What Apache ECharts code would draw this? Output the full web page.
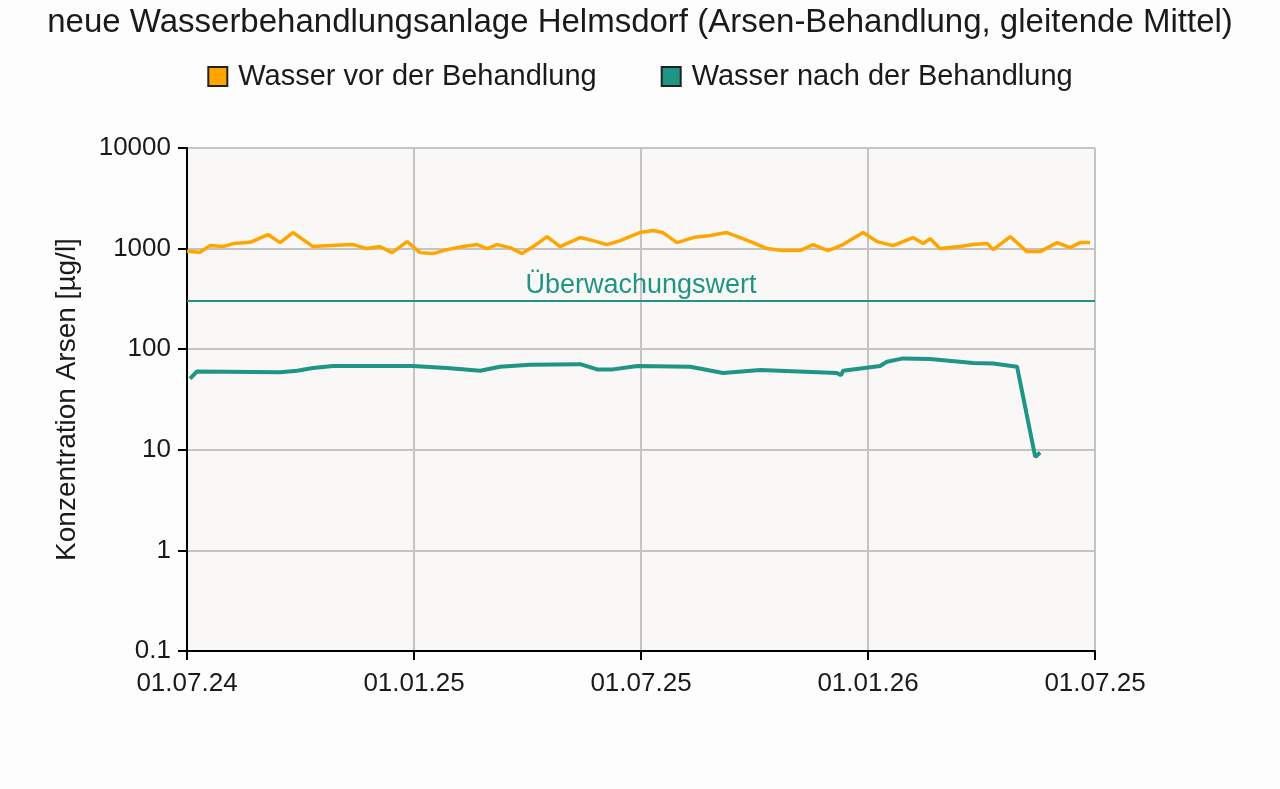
<!DOCTYPE html>
<html>
<head>
<meta charset="utf-8">
<script src="https://cdn.jsdelivr.net/npm/echarts@6/dist/echarts.min.js"></script>
<style>
html,body{margin:0;padding:0;background:#fdfdfd;}
#chart{width:1280px;height:789px;}
</style>
</head>
<body>
<div id="chart"></div>
<script>
// x in months since 01.07.24
var xTickLabels = ['01.07.24', '01.01.25', '01.07.25', '01.01.26', '01.07.25'];
var yTickLabels = ['0.1', '1', '10', '100', '1000', '10000'];

var vorMonths = [0.0,0.34,0.61,0.95,1.22,1.67,2.14,2.46,2.80,3.33,3.78,4.39,4.76,5.10,5.42,5.82,6.16,6.50,6.87,7.30,7.67,7.93,8.19,8.54,8.86,9.15,9.52,9.86,10.39,10.73,11.10,11.45,11.90,11.97,12.32,12.58,12.95,13.38,13.83,14.27,14.62,14.96,15.33,15.75,16.20,16.55,16.94,17.34,17.87,18.24,18.66,19.19,19.46,19.64,19.90,20.43,20.78,21.15,21.31,21.76,22.20,22.55,23.00,23.34,23.61,23.87];
var vorValues = [940,919,1071,1047,1121,1155,1379,1147,1444,1047,1071,1096,1000,1047,912,1174,912,892,977,1047,1096,1000,1096,1023,892,1047,1317,1047,1287,1201,1096,1201,1411,1444,1511,1444,1147,1287,1347,1444,1287,1147,1000,955,955,1096,955,1096,1444,1174,1071,1287,1121,1258,1000,1047,1096,1121,977,1317,934,934,1147,1023,1147,1147];

var nachMonths = [0.08,0.26,2.46,2.91,3.33,3.86,5.97,6.87,7.75,8.27,9.07,10.39,10.84,11.26,11.90,13.30,14.17,15.15,17.18,17.29,17.34,18.32,18.50,18.93,19.64,20.78,21.31,21.94,22.42,22.55];
var nachValues = [51,60,59,61,65,68,68,65,61,67,70,71,63,63,68,67,58,62,58,55,61,68,75,81,80,73,72,67,8.5,9.4];

var monitoringValue = 300;

function pairs(xs, ys){ return xs.map(function(x,i){ return [x, ys[i]]; }); }

var chart = echarts.init(document.getElementById('chart'));
var FONT = 'Liberation Sans, Arial, sans-serif';
chart.setOption({
  backgroundColor: '#fdfdfd',
  animation: false,
  textStyle: { fontFamily: FONT },
  title: {
    text: 'neue Wasserbehandlungsanlage Helmsdorf (Arsen-Behandlung, gleitende Mittel)',
    left: 'center', top: 1,
    textStyle: { fontFamily: FONT, fontSize: 33, fontWeight: 'normal', color: '#1a1a1a' }
  },
  legend: {
    top: 57, left: 'center',
    itemGap: 64, itemWidth: 19, itemHeight: 19, icon: 'rect',
    textStyle: { fontFamily: FONT, fontSize: 29, color: '#1a1a1a', padding: [0, 0, 0, 6] },
    data: [
      { name: 'Wasser vor der Behandlung', itemStyle: { color: '#ffa500', borderColor: '#222', borderWidth: 2 } },
      { name: 'Wasser nach der Behandlung', itemStyle: { color: '#1f9585', borderColor: '#222', borderWidth: 2 } }
    ]
  },
  grid: { left: 187, right: 185, top: 148, bottom: 138, show: true, backgroundColor: '#faf7f7', borderWidth: 0 },
  xAxis: {
    type: 'value', min: 0, max: 24, interval: 6,
    axisLine: { show: true, lineStyle: { color: '#000', width: 2 } },
    axisTick: { show: true, length: 9, lineStyle: { color: '#000', width: 2 } },
    splitLine: { show: true, lineStyle: { color: '#c4c4c4', width: 2 } },
    axisLabel: {
      fontFamily: FONT, fontSize: 26, color: '#1a1a1a', margin: 20,
      formatter: function(v){ return xTickLabels[Math.round(v/6)]; }
    }
  },
  yAxis: {
    type: 'log', logBase: 10, min: 0.1, max: 10000,
    name: 'Konzentration Arsen [µg/l]', nameLocation: 'middle', nameGap: 106, nameRotate: 90,
    nameTextStyle: { fontFamily: FONT, fontSize: 28, color: '#1a1a1a' },
    axisLine: { show: true, lineStyle: { color: '#000', width: 2 } },
    axisTick: { show: true, length: 9, lineStyle: { color: '#000', width: 2 } },
    splitLine: { show: true, lineStyle: { color: '#c4c4c4', width: 2 } },
    axisLabel: {
      fontFamily: FONT, fontSize: 26, color: '#1a1a1a', margin: 16,
      formatter: function(v){ return yTickLabels[Math.round(Math.log10(v)) + 1]; }
    }
  },
  series: [
    {
      name: 'Wasser vor der Behandlung', type: 'line', showSymbol: false, symbol: 'none',
      lineStyle: { color: '#ffa500', width: 3.5 }, itemStyle: { color: '#ffa500' },
      data: pairs(vorMonths, vorValues)
    },
    {
      name: 'Wasser nach der Behandlung', type: 'line', showSymbol: false, symbol: 'none',
      lineStyle: { color: '#1f9585', width: 4 }, itemStyle: { color: '#1f9585' },
      data: pairs(nachMonths, nachValues),
      markLine: {
        silent: true, symbol: 'none',
        lineStyle: { color: '#1f9585', width: 2, type: 'solid' },
        label: { show: true, position: 'insideMiddleTop', formatter: 'Überwachungswert',
                 fontFamily: FONT, fontSize: 27, color: '#1f9585', distance: 2 },
        data: [{ yAxis: monitoringValue }]
      }
    }
  ]
});
</script>
</body>
</html>
